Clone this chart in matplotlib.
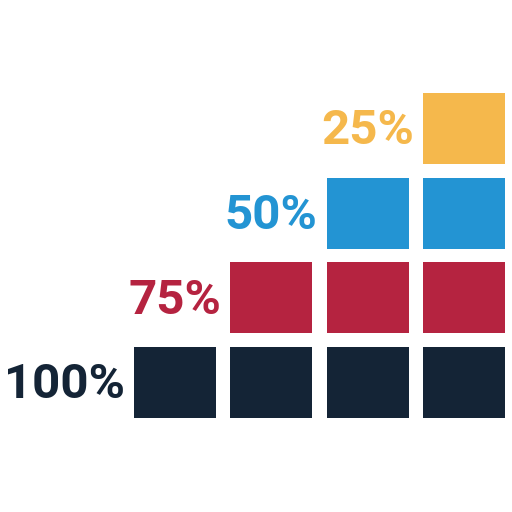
import matplotlib
matplotlib.use("Agg")
import matplotlib.pyplot as plt
from matplotlib.patches import Rectangle

labels = ["100%", "75%", "50%", "25%"]
counts = [4, 3, 2, 1]
colors = ["#142436", "#B52340", "#2394D3", "#F5B84C"]
n_cols = 4

fig = plt.figure(figsize=(5.12, 5.12), dpi=100)
ax = fig.add_axes([0, 0, 1, 1])
ax.set_xlim(0, 512)
ax.set_ylim(512, 0)
ax.axis("off")

x0, xstep, w = 134, 96.4, 82
y0, ystep, h = 347, 84.7, 71

for r, (lab, cnt, col) in enumerate(zip(labels, counts, colors)):
    top = y0 - r * ystep
    first = n_cols - cnt
    for c in range(first, n_cols):
        ax.add_patch(Rectangle((x0 + c * xstep, top), w, h, facecolor=col, edgecolor="none"))
    ax.text(x0 + first * xstep - 9, top + h / 2 + 3, lab, color=col, ha="right", va="center",
            fontsize=35.5, fontweight="bold", family=["Roboto", "DejaVu Sans"])

fig.savefig("out.png", dpi=100)
